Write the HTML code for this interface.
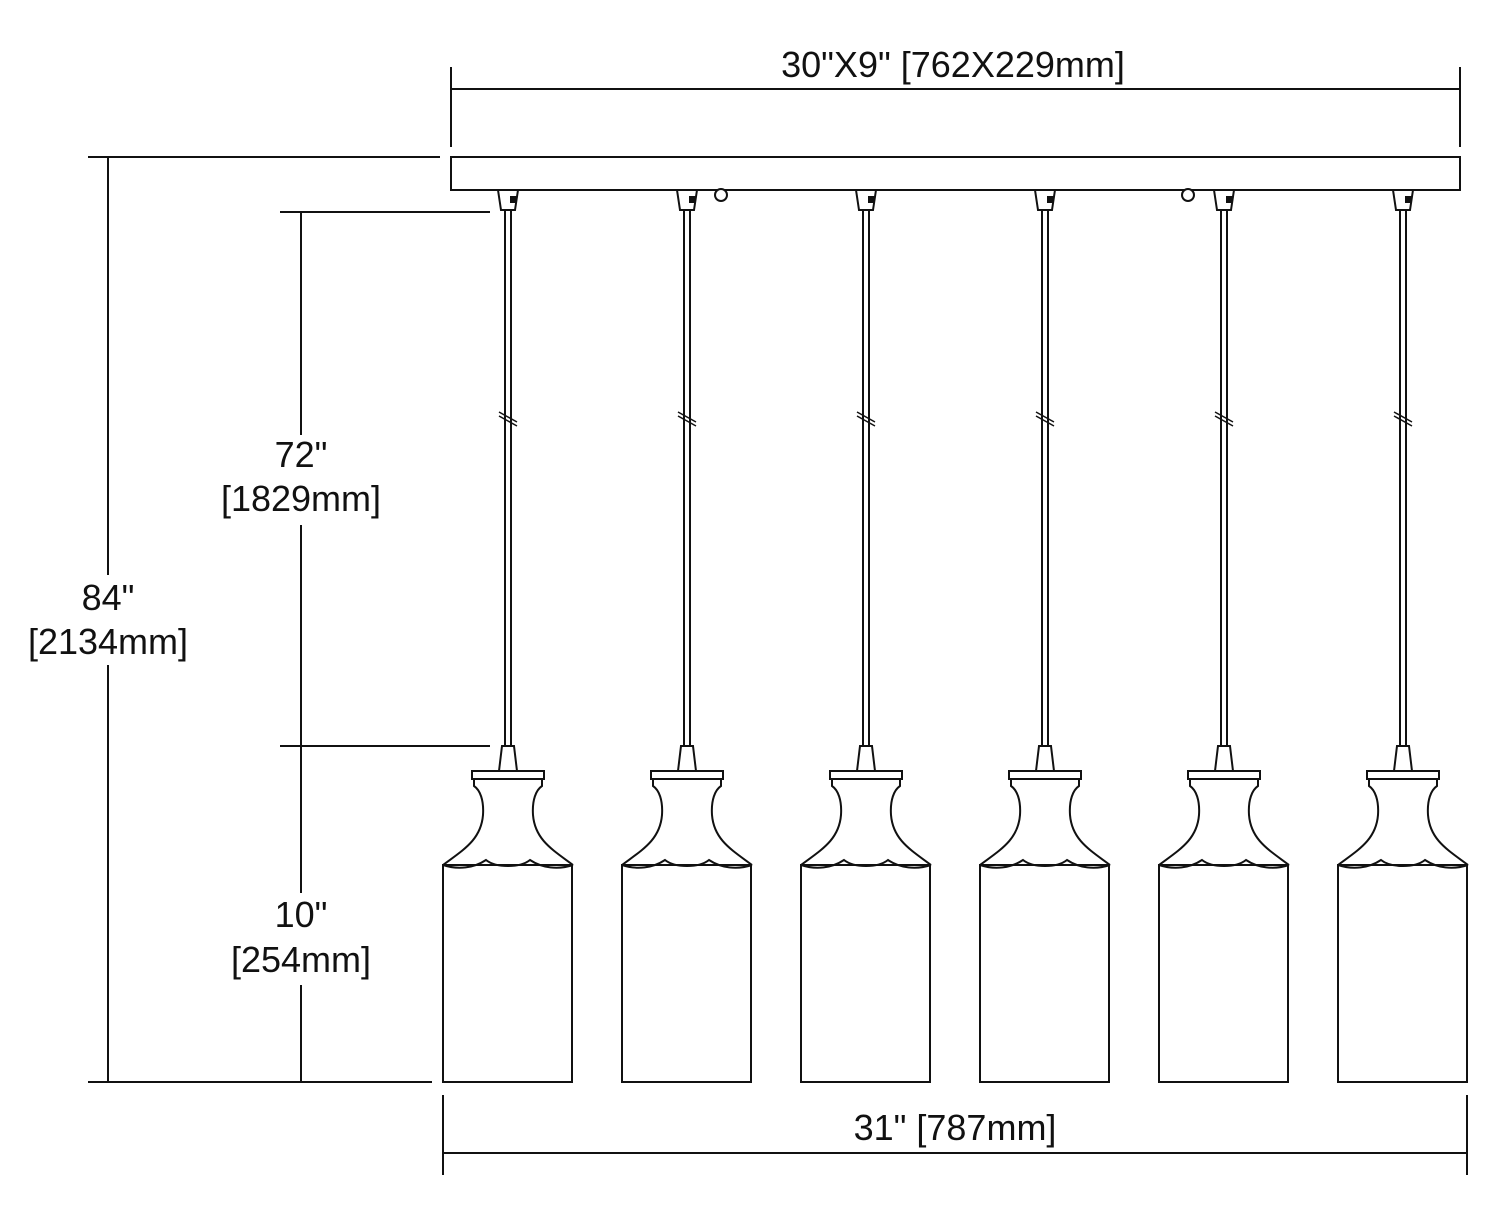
<!DOCTYPE html>
<html><head><style>
html,body{margin:0;padding:0;background:#fff;}
svg{display:block;}
text{font-family:"Liberation Sans",Arial,sans-serif;font-size:36px;fill:#111;text-anchor:middle;}
</style></head><body>
<svg width="1500" height="1226" viewBox="0 0 1500 1226" xmlns="http://www.w3.org/2000/svg">
<defs>
<g id="p" fill="none" stroke="#111" stroke-width="2">
  <path d="M-10 190 L10 190 L7 210 L-7 210 Z" fill="#fff"/>
  <rect x="3" y="197" width="5" height="5" fill="#111"/>
  <line x1="-3" y1="210" x2="-3" y2="746"/>
  <line x1="3" y1="210" x2="3" y2="746"/>
  <path d="M-9 412 L9 422 M-9 416 L9 426" stroke-width="1.5"/>
  <path d="M-6 746 L6 746 L9 771 L-9 771 Z" fill="#fff"/>
  <rect x="-36" y="771" width="72" height="8" fill="#fff"/>
  <path d="M-34 779 L-34 786 C-28 790 -24 800 -25 815 C-27 840 -45 850 -65 865 M34 779 L34 786 C28 790 24 800 25 815 C27 840 45 850 65 865"/>
  <path d="M-65 865 C-50 870 -34 868 -22 860 C-12 868 12 868 22 860 C34 868 50 870 65 865"/>
  <rect x="-65" y="865" width="129" height="217"/>
</g>
</defs>
<g stroke="#111" stroke-width="2" fill="none">
  <rect x="451" y="157" width="1009" height="33"/>
  <circle cx="721" cy="195" r="6" fill="#fff"/>
  <circle cx="1188" cy="195" r="6" fill="#fff"/>
  <line x1="451" y1="67" x2="451" y2="147"/>
  <line x1="1460" y1="67" x2="1460" y2="147"/>
  <line x1="451" y1="89" x2="1460" y2="89"/>
  <line x1="88" y1="157" x2="440" y2="157"/>
  <line x1="88" y1="1082" x2="432" y2="1082"/>
  <line x1="108" y1="157" x2="108" y2="575"/>
  <line x1="108" y1="665" x2="108" y2="1082"/>
  <line x1="280" y1="212" x2="490" y2="212"/>
  <line x1="280" y1="746" x2="490" y2="746"/>
  <line x1="301" y1="212" x2="301" y2="435"/>
  <line x1="301" y1="525" x2="301" y2="746"/>
  <line x1="301" y1="746" x2="301" y2="893"/>
  <line x1="301" y1="985" x2="301" y2="1082"/>
  <line x1="443" y1="1095" x2="443" y2="1175"/>
  <line x1="1467" y1="1095" x2="1467" y2="1175"/>
  <line x1="443" y1="1153" x2="1467" y2="1153"/>
</g>
<use href="#p" x="508"/>
<use href="#p" x="687"/>
<use href="#p" x="866"/>
<use href="#p" x="1045"/>
<use href="#p" x="1224"/>
<use href="#p" x="1403"/>
<text x="953" y="77">30"X9" [762X229mm]</text>
<text x="301" y="467">72"</text>
<text x="301" y="511">[1829mm]</text>
<text x="108" y="610">84"</text>
<text x="108" y="654">[2134mm]</text>
<text x="301" y="927">10"</text>
<text x="301" y="972">[254mm]</text>
<text x="955" y="1140">31" [787mm]</text>
</svg>
</body></html>
